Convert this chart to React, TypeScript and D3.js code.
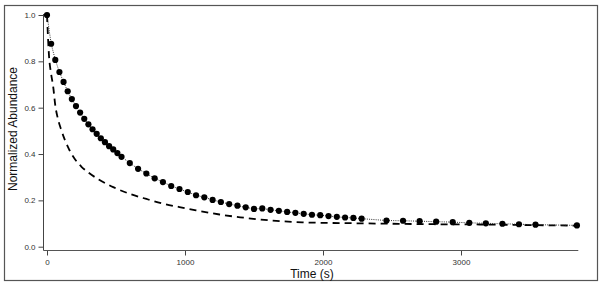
import { useEffect, useRef } from 'react';
import * as d3 from 'd3';

// observed abundance (dots)
const obsTime = [
  0, 30, 60, 90, 120, 150, 180, 210, 240, 270, 300, 330, 360, 390, 420, 450, 480, 510, 540,
  600, 660, 720, 780, 840, 900, 960, 1020, 1080, 1140, 1200, 1260, 1320, 1380, 1440, 1500,
  1560, 1620, 1680, 1740, 1800, 1860, 1920, 1980, 2040, 2100, 2160, 2220, 2280,
  2460, 2580, 2700, 2820, 2940, 3060, 3180, 3300, 3420, 3540, 3840,
];
const obsValue = [
  1.0, 0.876, 0.806, 0.754, 0.711, 0.671, 0.637, 0.607, 0.579, 0.552, 0.528, 0.507, 0.487, 0.468, 0.451, 0.434, 0.42, 0.404, 0.388,
  0.361, 0.336, 0.316, 0.295, 0.279, 0.262, 0.249, 0.236, 0.222, 0.213, 0.202, 0.193, 0.184, 0.177, 0.17, 0.163,
  0.165, 0.159, 0.155, 0.15, 0.146, 0.142, 0.138, 0.136, 0.132, 0.129, 0.126, 0.124, 0.121,
  0.113, 0.112, 0.11, 0.108, 0.106, 0.103, 0.101, 0.099, 0.097, 0.095, 0.092,
];

// model curve (dashed)
const modelTime = [
  0, 15, 30, 45, 60, 80, 100, 130, 160, 200, 250, 300, 375, 480, 600, 720, 840, 960, 1080,
  1250, 1400, 1550, 1700, 1850, 2000, 2250, 2500, 2800, 3100, 3400, 3840,
];
const modelValue = [
  1.0, 0.82, 0.745, 0.69, 0.61, 0.55, 0.51, 0.46, 0.42, 0.38, 0.345, 0.32, 0.29, 0.257, 0.228, 0.206, 0.186, 0.171, 0.157,
  0.139, 0.127, 0.117, 0.11, 0.105, 0.103, 0.101, 0.099, 0.097, 0.096, 0.094, 0.091,
];

const xTicks = [0, 1000, 2000, 3000];
const yTicks = [0, 0.2, 0.4, 0.6, 0.8, 1.0];

export default function App() {
  const ref = useRef<SVGSVGElement | null>(null);

  useEffect(() => {
    const el = ref.current;
    if (!el) return;
    const svg = d3.select(el);
    svg.selectAll('*').remove();

    const w = 600;
    const h = 283;
    const font = 'Liberation Sans, Arial, sans-serif';

    const x = d3.scaleLinear().domain([0, 1000]).range([47, 185]);
    const y = d3.scaleLinear().domain([0, 1]).range([246.7, 15]);

    // frame
    svg.append('rect')
      .attr('x', 4.5).attr('y', 5.5)
      .attr('width', 593).attr('height', 275)
      .attr('fill', 'none').attr('stroke', '#555').attr('stroke-width', 1.2);

    // y axis
    const yAxis = svg.append('g')
      .attr('transform', 'translate(43.5,0)')
      .call(d3.axisLeft(y).tickValues(yTicks).tickFormat(d3.format('.1f')).tickSize(5).tickSizeOuter(0).tickPadding(3));
    yAxis.select('.domain').remove();
    yAxis.append('line').attr('x1', 0).attr('x2', 0).attr('y1', 14).attr('y2', 250.5).attr('stroke', '#444');
    yAxis.selectAll('.tick line').attr('stroke', '#444');
    yAxis.selectAll('.tick text').attr('font-size', 8).attr('font-family', font).attr('fill', '#333');

    // x axis
    const xAxis = svg.append('g')
      .attr('transform', 'translate(0,250.5)')
      .call(d3.axisBottom(x).tickValues(xTicks).tickFormat(d3.format('d')).tickSize(5).tickSizeOuter(0).tickPadding(4));
    xAxis.select('.domain').remove();
    xAxis.append('line').attr('x1', 43.5).attr('x2', x(3850)).attr('y1', 0).attr('y2', 0).attr('stroke', '#555');
    xAxis.selectAll('.tick line').attr('stroke', '#444');
    xAxis.selectAll('.tick text').attr('font-size', 8).attr('font-family', font).attr('fill', '#333');

    // axis titles
    svg.append('text')
      .attr('transform', 'translate(16.5,129) rotate(-90)')
      .attr('text-anchor', 'middle')
      .attr('font-size', 12).attr('font-family', font).attr('fill', '#111')
      .text('Normalized Abundance');
    svg.append('text')
      .attr('x', 312).attr('y', 277.5)
      .attr('text-anchor', 'middle')
      .attr('font-size', 12).attr('font-family', font).attr('fill', '#111')
      .text('Time (s)');

    // model (dashed)
    const model = modelTime.map((t, i) => [t, modelValue[i]] as [number, number]);
    const modelLine = d3.line<[number, number]>()
      .x(d => x(d[0]))
      .y(d => y(d[1]))
      .curve(d3.curveMonotoneX);
    svg.append('path')
      .datum(model)
      .attr('d', modelLine)
      .attr('fill', 'none')
      .attr('stroke', '#000')
      .attr('stroke-width', 1.8)
      .attr('stroke-dasharray', '7,5');

    // observed (dotted line + dots)
    const obs = obsTime.map((t, i) => [t, obsValue[i]] as [number, number]);
    const obsLine = d3.line<[number, number]>()
      .x(d => x(d[0]))
      .y(d => y(d[1]));
    svg.append('path')
      .datum(obs)
      .attr('d', obsLine)
      .attr('fill', 'none')
      .attr('stroke', '#333')
      .attr('stroke-width', 1)
      .attr('stroke-dasharray', '1,1.2');
    svg.append('g')
      .selectAll('circle')
      .data(obs)
      .join('circle')
      .attr('cx', d => x(d[0]))
      .attr('cy', d => y(d[1]))
      .attr('r', 3.1)
      .attr('fill', '#000');

    svg.attr('viewBox', `0 0 ${w} ${h}`);
  }, []);

  return (
    <svg
      ref={ref}
      width={600}
      height={283}
      style={{ position: 'fixed', left: 0, top: 0, background: '#fff', display: 'block' }}
    />
  );
}
